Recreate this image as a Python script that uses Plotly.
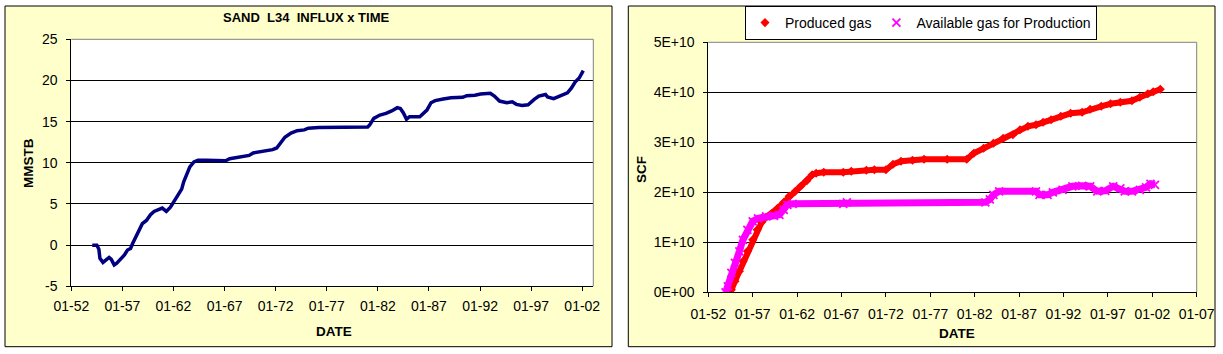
import plotly.graph_objects as go

W, H = 1223, 354


def px(x):
    return x / W


def py(y):
    return 1 - y / H


# ---------------- data: left chart (SAND L34 influx) ----------------
influx_year = [1954.05, 1954.5, 1954.7, 1954.8, 1955.1, 1955.4, 1955.7, 1955.9, 1956.2, 1956.45,
               1956.8, 1957.2, 1957.5, 1957.8, 1958.0, 1958.4, 1958.65, 1958.95, 1959.35, 1959.75,
               1960.1, 1960.5, 1960.9, 1961.3, 1961.7, 1962.1, 1962.45, 1962.8, 1963.0, 1963.3,
               1963.6, 1964.0, 1964.4, 1965.2, 1967.1, 1967.5, 1968.3, 1969.4, 1969.8, 1970.8,
               1971.7, 1972.1, 1972.5, 1972.9, 1973.5, 1974.1, 1974.8, 1975.2, 1976.2, 1977.9,
               1981.0, 1981.2, 1981.6, 1982.2, 1982.8, 1983.35, 1983.9, 1984.2, 1984.5, 1984.8,
               1985.1, 1986.1, 1986.4, 1986.8, 1987.2, 1987.6, 1988.4, 1989.15, 1990.3, 1990.7,
               1991.5, 1992.05, 1993.0, 1993.4, 1993.9, 1994.6, 1995.15, 1995.55, 1996.1, 1996.7,
               1997.3, 1997.75, 1998.4, 1998.6, 1999.2, 1999.8, 2000.55, 2000.95, 2001.3, 2001.7,
               2002.1]
influx_mmstb = [0, 0, -0.5, -1.6, -2.1, -1.8, -1.5, -1.7, -2.4, -2.2,
                -1.8, -1.2, -0.6, -0.4, 0.2, 1.3, 1.9, 2.6, 3.0, 3.7,
                4.1, 4.3, 4.5, 4.1, 4.6, 5.4, 6.1, 6.8, 7.7, 8.6,
                9.5, 10.1, 10.3, 10.3, 10.25, 10.5, 10.7, 10.9, 11.2, 11.4,
                11.6, 11.8, 12.4, 13.1, 13.6, 13.9, 14.0, 14.2, 14.3, 14.35,
                14.35, 14.6, 15.4, 15.8, 16.0, 16.3, 16.7, 16.6, 16.05, 15.3,
                15.6, 15.6, 15.9, 16.4, 17.3, 17.55, 17.75, 17.9, 17.95, 18.15,
                18.2, 18.35, 18.45, 18.1, 17.5, 17.3, 17.4, 17.1, 16.95, 17.05,
                17.7, 18.1, 18.3, 18.0, 17.8, 18.1, 18.5, 19.1, 19.8, 20.3,
                21.2]

left_tick_years = [1952, 1957, 1962, 1967, 1972, 1977, 1982, 1987, 1992, 1997, 2002]
left_tick_labels = ["01-52", "01-57", "01-62", "01-67", "01-72", "01-77", "01-82",
                    "01-87", "01-92", "01-97", "01-02"]
mmstb_tick_vals = [-5, 0, 5, 10, 15, 20, 25]
mmstb_tick_labels = ["-5", "0", "5", "10", "15", "20", "25"]

# ---------------- data: right chart (gas) ----------------
produced_year = [1954.3, 1954.6, 1955.0, 1955.5, 1955.9, 1956.4, 1957.0, 1957.5, 1958.0, 1958.5,
                 1959.2, 1959.8, 1960.5, 1961.1, 1961.8, 1962.4, 1963.1, 1963.7, 1964.15, 1965.0,
                 1967.2, 1968.1, 1969.8, 1970.7, 1972.0, 1972.8, 1973.7, 1975.0, 1976.3, 1978.9,
                 1981.1, 1981.9, 1983.0, 1984.1, 1985.2, 1986.3, 1987.1, 1988.0, 1988.9, 1989.7,
                 1990.6, 1991.7, 1992.8, 1994.1, 1995.0, 1996.25, 1997.3, 1998.4, 1999.7, 2000.6,
                 2001.5, 2002.1, 2002.9]
produced_scf = [0.0, 0.05e10, 0.22e10, 0.42e10, 0.62e10, 0.82e10, 1.05e10, 1.25e10, 1.40e10, 1.50e10,
                1.58e10, 1.68e10, 1.80e10, 1.92e10, 2.02e10, 2.12e10, 2.23e10, 2.35e10, 2.38e10, 2.40e10,
                2.40e10, 2.42e10, 2.44e10, 2.45e10, 2.45e10, 2.56e10, 2.62e10, 2.64e10, 2.66e10, 2.66e10,
                2.66e10, 2.78e10, 2.88e10, 2.98e10, 3.08e10, 3.15e10, 3.25e10, 3.32e10, 3.35e10, 3.40e10,
                3.45e10, 3.52e10, 3.58e10, 3.60e10, 3.66e10, 3.72e10, 3.77e10, 3.80e10, 3.83e10, 3.90e10,
                3.97e10, 4.01e10, 4.06e10]

available_year = [1953.95, 1954.2, 1954.6, 1955.0, 1955.5, 1955.9, 1956.4, 1957.0, 1957.6, 1958.5,
                  1959.4, 1960.0, 1960.5, 1960.9, 1961.5, 1967.2, 1967.6, 1983.2, 1983.7, 1984.1,
                  1984.75, 1988.9, 1989.3, 1990.2, 1990.8, 1991.9, 1993.0, 1994.1, 1995.0, 1995.8,
                  1996.7, 1997.6, 1998.4, 1998.9, 1999.7, 2000.6, 2001.3, 2001.8, 2002.3]
available_scf = [0.0, 0.12e10, 0.39e10, 0.59e10, 0.82e10, 1.05e10, 1.25e10, 1.42e10, 1.48e10, 1.52e10,
                 1.53e10, 1.55e10, 1.65e10, 1.75e10, 1.77e10, 1.77e10, 1.80e10, 1.80e10, 1.86e10, 1.95e10,
                 2.02e10, 2.02e10, 1.95e10, 1.95e10, 2.00e10, 2.05e10, 2.12e10, 2.13e10, 2.12e10, 2.02e10,
                 2.03e10, 2.12e10, 2.08e10, 2.02e10, 2.02e10, 2.05e10, 2.10e10, 2.17e10, 2.15e10]

right_tick_years = [1952, 1957, 1962, 1967, 1972, 1977, 1982, 1987, 1992, 1997, 2002, 2007]
right_tick_labels = ["01-52", "01-57", "01-62", "01-67", "01-72", "01-77", "01-82",
                     "01-87", "01-92", "01-97", "01-02", "01-07"]
scf_tick_vals = [0, 1e10, 2e10, 3e10, 4e10, 5e10]
scf_tick_labels = ["0E+00", "1E+10", "2E+10", "3E+10", "4E+10", "5E+10"]

# ---------------- styling ----------------
FONT = "Arial, 'Liberation Sans', sans-serif"
PANEL = "#FFFFCC"
NAVY = "#000080"
RED = "#FF0000"
MAGENTA = "#FF00FF"
TICK_SIZE = 14

fig = go.Figure()

fig.add_trace(go.Scatter(x=influx_year, y=influx_mmstb, mode="lines",
                         line=dict(color=NAVY, width=3.5), showlegend=False,
                         xaxis="x", yaxis="y", hoverinfo="skip"))

fig.add_trace(go.Scatter(x=produced_year, y=produced_scf, mode="lines",
                         line=dict(color=RED, width=6), showlegend=False,
                         legendgroup="p", xaxis="x2", yaxis="y2", hoverinfo="skip"))
fig.add_trace(go.Scatter(x=produced_year, y=produced_scf, mode="markers", name="Produced gas",
                         marker=dict(symbol="diamond", size=7, color=RED),
                         legendgroup="p", xaxis="x2", yaxis="y2"))
fig.add_trace(go.Scatter(x=available_year, y=available_scf, mode="lines",
                         line=dict(color=MAGENTA, width=7), showlegend=False,
                         legendgroup="a", xaxis="x2", yaxis="y2", hoverinfo="skip"))
fig.add_trace(go.Scatter(x=available_year, y=available_scf, mode="markers",
                         name="Available gas for Production",
                         marker=dict(symbol="x-thin", size=8, color=MAGENTA,
                                     line=dict(color=MAGENTA, width=1.8)),
                         legendgroup="a", xaxis="x2", yaxis="y2"))

axis_common = dict(showline=True, linecolor="black", linewidth=1, ticks="outside",
                   ticklen=4, tickcolor="black", tickwidth=1,
                   tickfont=dict(family=FONT, size=TICK_SIZE, color="black"), zeroline=False,
                   automargin=False)

# plot areas in pixels
L = dict(x0=71.3, x1=593.3, y0=39.3, y1=286.3)
R = dict(x0=708.3, x1=1196.7, y0=42.3, y1=292.3)

fig.update_layout(
    width=W, height=H,
    margin=dict(l=0, r=0, t=0, b=0, pad=0, autoexpand=False),
    paper_bgcolor="white", plot_bgcolor="white",
    font=dict(family=FONT, color="black"),
    xaxis=dict(domain=[px(L["x0"]), px(L["x1"])], range=[1952, 2003.08],
               tickmode="array", tickvals=left_tick_years, ticktext=left_tick_labels,
               showgrid=False, anchor="y", ticklabelstandoff=3, **axis_common),
    yaxis=dict(domain=[py(L["y1"]), py(L["y0"])], range=[-5, 25],
               tickmode="array", tickvals=mmstb_tick_vals, ticktext=mmstb_tick_labels,
               showgrid=True, gridcolor="black", gridwidth=1, anchor="x",
               ticklabelstandoff=6, **axis_common),
    xaxis2=dict(domain=[px(R["x0"]), px(R["x1"])], range=[1952, 2007],
                tickmode="array", tickvals=right_tick_years, ticktext=right_tick_labels,
                showgrid=False, anchor="y2", ticklabelstandoff=5, **axis_common),
    yaxis2=dict(domain=[py(R["y1"]), py(R["y0"])], range=[0, 5e10],
                tickmode="array", tickvals=scf_tick_vals, ticktext=scf_tick_labels,
                showgrid=True, gridcolor="black", gridwidth=1, anchor="x2",
                ticklabelstandoff=6, **axis_common),
    legend=dict(orientation="h", x=px(921), xanchor="center", y=py(6), yanchor="top",
                bgcolor="white", bordercolor="black", borderwidth=1,
                font=dict(family=FONT, size=TICK_SIZE, color="black"),
                itemwidth=30, tracegroupgap=0),
)

shapes = [
    # chart panels
    dict(type="rect", xref="paper", yref="paper", x0=px(5), x1=px(612), y0=py(346.7), y1=py(6),
         fillcolor=PANEL, line=dict(color="black", width=1), layer="below"),
    dict(type="rect", xref="paper", yref="paper", x0=px(628.3), x1=px(1215), y0=py(346.7), y1=py(6),
         fillcolor=PANEL, line=dict(color="black", width=1), layer="below"),
    # white plot areas
    dict(type="rect", xref="paper", yref="paper", x0=px(L["x0"]), x1=px(L["x1"]),
         y0=py(L["y1"]), y1=py(L["y0"]), fillcolor="white", line=dict(width=0), layer="below"),
    dict(type="rect", xref="paper", yref="paper", x0=px(R["x0"]), x1=px(R["x1"]),
         y0=py(R["y1"]), y1=py(R["y0"]), fillcolor="white", line=dict(width=0), layer="below"),
]
for P in (L, R):
    shapes.append(dict(type="line", xref="paper", yref="paper", x0=px(P["x0"]), x1=px(P["x1"]),
                       y0=py(P["y0"]), y1=py(P["y0"]), line=dict(color="#808080", width=1),
                       layer="above"))
    shapes.append(dict(type="line", xref="paper", yref="paper", x0=px(P["x1"]), x1=px(P["x1"]),
                       y0=py(P["y0"]), y1=py(P["y1"]), line=dict(color="#808080", width=1),
                       layer="above"))
fig.update_layout(shapes=shapes)

bold = dict(family=FONT, size=13.5, color="black")
annotations = [
    dict(text="<b>SAND\u00a0 L34\u00a0 INFLUX x TIME</b>", x=px(306), y=py(18),
         font=dict(family=FONT, size=13, color="black")),
    dict(text="<b>MMSTB</b>", x=px(28), y=py(163), textangle=-90, font=bold),
    dict(text="<b>DATE</b>", x=px(334), y=py(331), font=bold),
    dict(text="<b>SCF</b>", x=px(641), y=py(170), textangle=-90, font=bold),
    dict(text="<b>DATE</b>", x=px(957), y=py(333), font=bold),
]
for a in annotations:
    a.update(xref="paper", yref="paper", showarrow=False, xanchor="center", yanchor="middle")
fig.update_layout(annotations=annotations)

fig.write_html("out.html", config={"displayModeBar": False},
               post_script="document.body.style.margin='0';document.body.style.overflow='hidden';")
